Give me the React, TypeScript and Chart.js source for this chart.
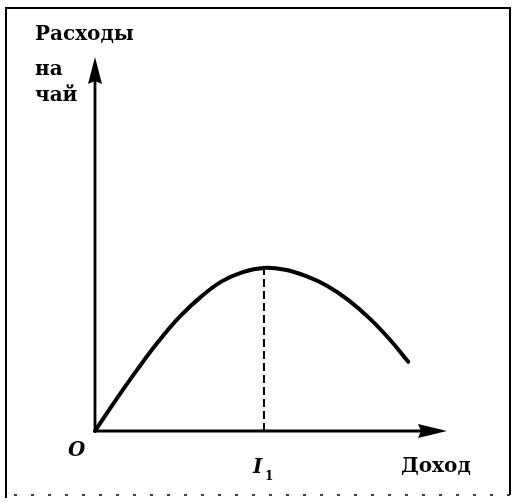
import React, { useEffect, useRef } from "react";
import { Chart, registerables } from "chart.js";

Chart.register(...registerables);

// Engel curve for tea: spending rises with income up to I1, then falls
const incomeLevels = [0, 0.6, 1.2, 1.8, 2.4, 3.0, 3.6, 4.2, 4.8, 5.4, 6.0, 6.6, 7.2, 7.8, 8.4, 8.9];
const teaSpending = [0, 0.84, 1.64, 2.39, 3.05, 3.58, 4.0, 4.25, 4.36, 4.31, 4.14, 3.88, 3.5, 3.01, 2.42, 1.85];
const peakIndex = 8;

const axisMin = 0;
const axisMax = 10;

const yAxisTitle = ["Расходы", "на", "чай"];
const xAxisTitle = "Доход";
const originLabel = "O";
const peakLabel = "I";
const peakSubscript = "1";

const INK = "#000";
const BOLD = "bold 20px 'DejaVu Serif', serif";
const BOLD_ITALIC = "italic bold 20px 'DejaVu Serif', serif";
const SUB = "bold 12px 'DejaVu Serif', serif";

const framePlugin = {
  id: "frame",
  beforeDraw(chart: Chart) {
    const ctx = chart.ctx;
    const w = chart.width;
    const h = chart.height;
    ctx.save();
    ctx.strokeStyle = INK;
    ctx.lineWidth = 2;
    ctx.beginPath();
    ctx.moveTo(6, h - 4);
    ctx.lineTo(6, 8);
    ctx.lineTo(w - 5, 8);
    ctx.lineTo(w - 5, h - 7);
    ctx.stroke();
    // faint broken lower edge
    ctx.lineWidth = 1.5;
    ctx.setLineDash([3, 14]);
    ctx.beginPath();
    ctx.moveTo(14, h - 7);
    ctx.lineTo(w - 5, h - 7);
    ctx.stroke();
    ctx.restore();
  },
};

const axesPlugin = {
  id: "arrowAxes",
  beforeDatasetsDraw(chart: Chart) {
    const ctx = chart.ctx;
    const xs = chart.scales.x;
    const ys = chart.scales.y;
    const x0 = xs.getPixelForValue(axisMin);
    const y0 = ys.getPixelForValue(axisMin);
    const xEnd = xs.getPixelForValue(axisMax);
    const yEnd = ys.getPixelForValue(axisMax);
    ctx.save();
    ctx.strokeStyle = INK;
    ctx.fillStyle = INK;
    ctx.lineWidth = 2.8;
    ctx.beginPath();
    ctx.moveTo(x0, y0 + 1);
    ctx.lineTo(x0, yEnd + 20);
    ctx.moveTo(x0 - 1, y0);
    ctx.lineTo(xEnd - 20, y0);
    ctx.stroke();
    // arrowheads
    ctx.beginPath();
    ctx.moveTo(x0, yEnd);
    ctx.lineTo(x0 + 7, yEnd + 27);
    ctx.lineTo(x0, yEnd + 24);
    ctx.lineTo(x0 - 7, yEnd + 27);
    ctx.closePath();
    ctx.fill();
    ctx.beginPath();
    ctx.moveTo(xEnd, y0);
    ctx.lineTo(xEnd - 29, y0 - 7);
    ctx.lineTo(xEnd - 26, y0);
    ctx.lineTo(xEnd - 29, y0 + 7);
    ctx.closePath();
    ctx.fill();
    ctx.restore();
  },
  afterDraw(chart: Chart) {
    const ctx = chart.ctx;
    const xs = chart.scales.x;
    const ys = chart.scales.y;
    const x0 = xs.getPixelForValue(axisMin);
    const y0 = ys.getPixelForValue(axisMin);
    const xEnd = xs.getPixelForValue(axisMax);
    const yEnd = ys.getPixelForValue(axisMax);
    const xPeak = xs.getPixelForValue(incomeLevels[peakIndex]);
    ctx.save();
    ctx.fillStyle = INK;
    ctx.textBaseline = "alphabetic";
    ctx.textAlign = "left";
    ctx.font = BOLD;
    const lineY = [yEnd - 17, yEnd + 18, yEnd + 44];
    yAxisTitle.forEach((t, i) => ctx.fillText(t, x0 - 60, lineY[i]));
    ctx.fillText(xAxisTitle, xEnd - 46, y0 + 41);
    ctx.font = BOLD_ITALIC;
    ctx.fillText(originLabel, x0 - 27, y0 + 25);
    ctx.fillText(peakLabel, xPeak - 11, y0 + 42);
    ctx.font = SUB;
    ctx.fillText(peakSubscript, xPeak + 1, y0 + 49);
    ctx.restore();
  },
};

export default function App() {
  const canvasRef = useRef<HTMLCanvasElement | null>(null);

  useEffect(() => {
    const canvas = canvasRef.current;
    if (!canvas) return;
    const curve = incomeLevels.map((x, i) => ({ x, y: teaSpending[i] }));
    const dropLine = [
      { x: incomeLevels[peakIndex], y: axisMin },
      { x: incomeLevels[peakIndex], y: teaSpending[peakIndex] },
    ];
    const chart = new Chart(canvas, {
      type: "line",
      data: {
        datasets: [
          {
            data: curve,
            borderColor: INK,
            borderWidth: 4,
            borderCapStyle: "round",
            borderJoinStyle: "round",
            pointRadius: 0,
            tension: 0.4,
            fill: false,
            clip: false,
          },
          {
            data: dropLine,
            borderColor: INK,
            borderWidth: 2,
            borderDash: [8, 4],
            pointRadius: 0,
            tension: 0,
            fill: false,
            clip: false,
          },
        ],
      },
      options: {
        animation: false,
        responsive: false,
        events: [],
        layout: { padding: { left: 95, right: 68, top: 57, bottom: 71 } },
        scales: {
          x: { type: "linear", min: axisMin, max: axisMax, display: false },
          y: { type: "linear", min: axisMin, max: axisMax, display: false },
        },
        plugins: {
          legend: { display: false },
          tooltip: { enabled: false },
        },
      },
      plugins: [framePlugin, axesPlugin],
    });
    return () => chart.destroy();
  }, []);

  return (
    <div style={{ position: "absolute", left: 0, top: 0, width: 515, height: 502, background: "#fff" }}>
      <canvas ref={canvasRef} width={515} height={502} />
    </div>
  );
}
